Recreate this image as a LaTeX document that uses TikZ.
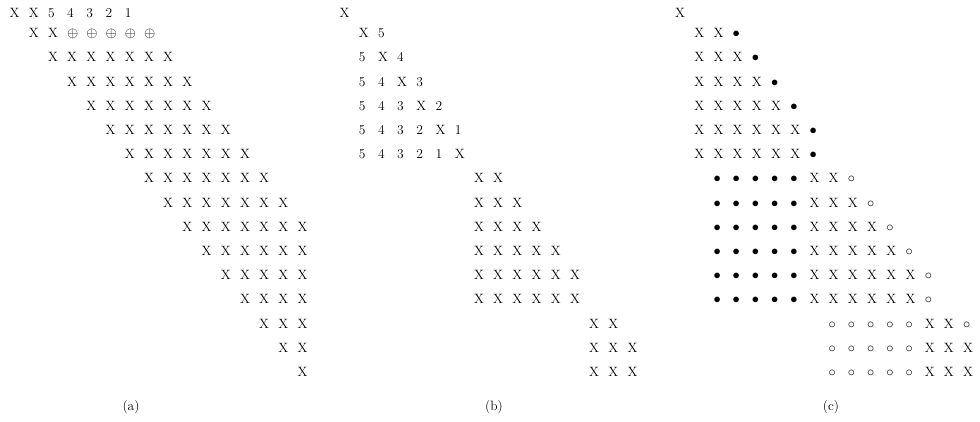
\documentclass[tikz,border=0pt]{standalone}
\newcommand\cellfont{\fontsize{13.5}{16}\selectfont}
\newcommand\xb{$\bullet$}
\newcommand\xc{$\circ$}
\newcommand\xp{$\oplus$}
\tikzset{
  cell/.style={inner sep=0pt, anchor=base west, font=\cellfont},
  caption/.style={inner sep=0pt, anchor=base, font=\cellfont}
}
% #1 panel, #2 x of column 0 centre, #3 row, #4 first column, #5 entries
\newcommand\mrow[5]{%
  \foreach \e [count=\i from 0] in {#5} {
    \pgfmathtruncatemacro\cc{#4+\i}
    \pgfmathsetmacro\cx{#2+19.2*\cc-5.06}
    \pgfmathsetmacro\cy{ifthenelse(#3==0,17.6,37.6+24.2*(#3-1))}
    \node[cell] (#1-#3-\cc) at (\cx,\cy) {\e};
  }}
\begin{document}
\begin{tikzpicture}[x=1pt,y=-1pt]
\useasboundingbox (0,0) rectangle (980,421);
% ---------- (a)
\def\xa{14.5}
\mrow{a}{\xa}{0}{0}{X,X,5,4,3,2,1}
\mrow{a}{\xa}{1}{1}{X,X,\xp,\xp,\xp,\xp,\xp}
\foreach \r in {2,...,9} {\mrow{a}{\xa}{\r}{\r}{X,X,X,X,X,X,X}}
\mrow{a}{\xa}{10}{10}{X,X,X,X,X,X}
\mrow{a}{\xa}{11}{11}{X,X,X,X,X}
\mrow{a}{\xa}{12}{12}{X,X,X,X}
\mrow{a}{\xa}{13}{13}{X,X,X}
\mrow{a}{\xa}{14}{14}{X,X}
\mrow{a}{\xa}{15}{15}{X}
\node[caption] (capa) at (131,410.5) {(a)};
% ---------- (b)
\def\xbb{344.5}
\mrow{b}{\xbb}{0}{0}{X}
\mrow{b}{\xbb}{1}{1}{X,5}
\mrow{b}{\xbb}{2}{1}{5,X,4}
\mrow{b}{\xbb}{3}{1}{5,4,X,3}
\mrow{b}{\xbb}{4}{1}{5,4,3,X,2}
\mrow{b}{\xbb}{5}{1}{5,4,3,2,X,1}
\mrow{b}{\xbb}{6}{1}{5,4,3,2,1,X}
\mrow{b}{\xbb}{7}{7}{X,X}
\mrow{b}{\xbb}{8}{7}{X,X,X}
\mrow{b}{\xbb}{9}{7}{X,X,X,X}
\mrow{b}{\xbb}{10}{7}{X,X,X,X,X}
\mrow{b}{\xbb}{11}{7}{X,X,X,X,X,X}
\mrow{b}{\xbb}{12}{7}{X,X,X,X,X,X}
\mrow{b}{\xbb}{13}{13}{X,X}
\mrow{b}{\xbb}{14}{13}{X,X,X}
\mrow{b}{\xbb}{15}{13}{X,X,X}
\node[caption] (capb) at (494,410.5) {(b)};
% ---------- (c)
\def\xcc{680}
\mrow{c}{\xcc}{0}{0}{X}
\mrow{c}{\xcc}{1}{1}{X,X,\xb}
\mrow{c}{\xcc}{2}{1}{X,X,X,\xb}
\mrow{c}{\xcc}{3}{1}{X,X,X,X,\xb}
\mrow{c}{\xcc}{4}{1}{X,X,X,X,X,\xb}
\mrow{c}{\xcc}{5}{1}{X,X,X,X,X,X,\xb}
\mrow{c}{\xcc}{6}{1}{X,X,X,X,X,X,\xb}
\mrow{c}{\xcc}{7}{2}{\xb,\xb,\xb,\xb,\xb,X,X,\xc}
\mrow{c}{\xcc}{8}{2}{\xb,\xb,\xb,\xb,\xb,X,X,X,\xc}
\mrow{c}{\xcc}{9}{2}{\xb,\xb,\xb,\xb,\xb,X,X,X,X,\xc}
\mrow{c}{\xcc}{10}{2}{\xb,\xb,\xb,\xb,\xb,X,X,X,X,X,\xc}
\mrow{c}{\xcc}{11}{2}{\xb,\xb,\xb,\xb,\xb,X,X,X,X,X,X,\xc}
\mrow{c}{\xcc}{12}{2}{\xb,\xb,\xb,\xb,\xb,X,X,X,X,X,X,\xc}
\mrow{c}{\xcc}{13}{8}{\xc,\xc,\xc,\xc,\xc,X,X,\xc}
\mrow{c}{\xcc}{14}{8}{\xc,\xc,\xc,\xc,\xc,X,X,X}
\mrow{c}{\xcc}{15}{8}{\xc,\xc,\xc,\xc,\xc,X,X,X}
\node[caption] (capc) at (831,410.5) {(c)};
\end{tikzpicture}
\end{document}
